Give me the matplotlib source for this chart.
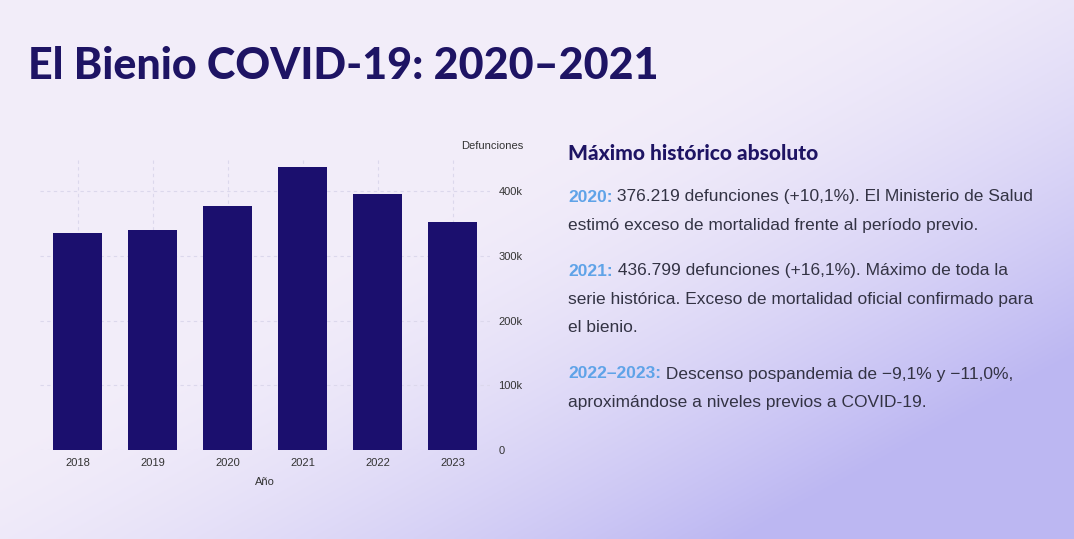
import matplotlib
matplotlib.use("Agg")
import matplotlib.pyplot as plt
import numpy as np

plt.rcParams["font.family"] = ["Liberation Sans", "DejaVu Sans"]

years = ["2018", "2019", "2020", "2021", "2022", "2023"]
deaths = [335000, 340000, 376219, 436799, 395000, 352000]
yticks = [0, 100000, 200000, 300000, 400000]
ytick_labels = ["0", "100k", "200k", "300k", "400k"]

W, H = 1074, 539
fig = plt.figure(figsize=(W/100, H/100), dpi=100)

bg = fig.add_axes([0, 0, 1, 1])
yy, xx = np.mgrid[0:1:200j, 0:1:400j]
base = np.array([0.95, 0.93, 0.98])
purple = np.array([0.74, 0.72, 0.95])
d = np.clip((xx - 0.45) * 1.2 + (yy - 0.35) * 1.1, 0, 1) ** 1.5
img = base[None, None, :] * (1 - d[..., None]) + purple[None, None, :] * d[..., None]
bg.imshow(img, extent=[0, 1, 0, 1], aspect="auto", origin="upper")
bg.axis("off")

fig.text(28/W, 1 - 66/H, "El Bienio COVID-19: 2020–2021", fontsize=31, fontweight="black",
         family="Lato", color="#1e1464", va="center")

ax = fig.add_axes([40/W, 1 - 450/H, 450/W, 290/H])
ax.patch.set_alpha(0)
x = np.arange(len(years))
ax.bar(x, deaths, width=0.66, color="#1b0f6e", zorder=3)
ax.set_xlim(-0.5, len(years) - 0.5)
ax.set_ylim(0, 448000)
ax.set_xticks(x, years)
ax.set_yticks(yticks, ytick_labels)
ax.yaxis.tick_right()
ax.tick_params(length=0, labelsize=8, colors="#333333", pad=6)
ax.grid(True, color="#dcd8ec", linestyle=(0, (3, 3)), linewidth=0.8, zorder=0)
for s in ax.spines.values():
    s.set_visible(False)
ax.set_xlabel("Año", fontsize=8, color="#333333", labelpad=6)
fig.text(523/W, 1 - 146/H, "Defunciones", fontsize=8, color="#333333", ha="right", va="center")

fig.text(568/W, 1 - 153/H, "Máximo histórico absoluto", fontsize=15, fontweight="black",
         family="Lato", color="#1e1464", va="center")

blue = "#5fa3e8"
txt = "#333344"
paras = [
    (197, "2020:", [" 376.219 defunciones (+10,1%). El Ministerio de Salud",
                    "estimó exceso de mortalidad frente al período previo."]),
    (271, "2021:", [" 436.799 defunciones (+16,1%). Máximo de toda la",
                    "serie histórica. Exceso de mortalidad oficial confirmado para",
                    "el bienio."]),
    (374, "2022–2023:", [" Descenso pospandemia de −9,1% y −11,0%,",
                         "aproximándose a niveles previos a COVID-19."]),
]
fs = 12.5
for yc, lab, lines in paras:
    t = fig.text(568/W, 1 - yc/H, lab, fontsize=fs, fontweight="bold", color=blue, va="center")
    fig.canvas.draw()
    bb = t.get_window_extent()
    fig.text(bb.x1/W, 1 - yc/H, lines[0], fontsize=fs, color=txt, va="center")
    for i, l in enumerate(lines[1:], 1):
        fig.text(568/W, 1 - (yc + 28.5*i)/H, l, fontsize=fs, color=txt, va="center")

fig.savefig("out.png", dpi=100)
